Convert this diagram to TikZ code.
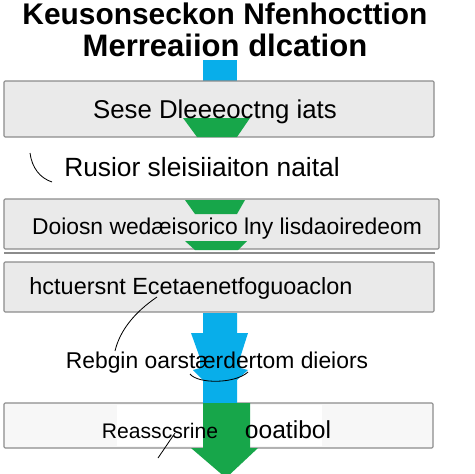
\documentclass[tikz,border=0pt]{standalone}
\usepackage{fontspec}
\setmainfont{Liberation Sans}
\usetikzlibrary{positioning,calc}
\definecolor{flowblue}{HTML}{08AEEA}
\definecolor{flowgreen}{HTML}{17A64A}
\definecolor{boxgray}{HTML}{EAEAEA}
\definecolor{boxline}{HTML}{8C8C8C}
\tikzset{
	x=0.03cm, y=-0.03cm,
	stepbox/.style={draw=boxline, fill=boxgray, line width=0.9pt, rounded corners=1pt, inner sep=0pt},
	title/.style={inner sep=0pt, anchor=base, font=\fontsize{#1}{#1}\selectfont\bfseries},
	title/.default=26,
	lbl/.style={inner sep=0pt, anchor=base, font=\fontsize{#1}{#1}\selectfont},
	lbl/.default=20,
	blueflow/.style={fill=flowblue, draw=none},
	greenflow/.style={fill=flowgreen, draw=none},
	hand/.style={draw=black, line width=0.7pt}
}
\begin{document}
\begin{tikzpicture}
		\useasboundingbox (0,0) rectangle (474,474);
		\fill[white] (0,0) rectangle (474,474);
		
		% Boxes
		\fill[blueflow] (203,60) rectangle (237,82);
		\node[stepbox, minimum width=12.9cm, minimum height=1.68cm] (box1) at (219,109) {};
		\node[stepbox, minimum width=13.05cm, minimum height=1.5cm] (box2) at (221.5,224) {};
		\draw[boxline, line width=0.9pt] (4,253) -- (435,253);
		\node[stepbox, minimum width=12.9cm, minimum height=1.5cm] (box3) at (219,287) {};
		\node[stepbox, fill=gray!6, minimum width=12.87cm, minimum height=1.35cm] (box4) at (218.5,425.5) {};
		\fill[white] (117,405) rectangle (322,446);
		
		% Arrows
		\fill[greenflow] (183,118) -- (250,118) -- (237,137) -- (197,137) -- cycle;
		\fill[greenflow] (185,200) -- (245,200) -- (237,214) -- (195,214) -- cycle;
		\fill[greenflow] (185,241) -- (247,241) -- (238,250) -- (195,250) -- cycle;
		\fill[blueflow] (203,313) -- (237,313) -- (237,333) -- (248,333) -- (240,358)
			-- (240,368) -- (248,370) -- (237,380) -- (237,403) -- (203,403) -- (203,380)
			-- (193,370) -- (200,368) -- (200,358) -- (191,333) -- (203,333) -- cycle;
		\fill[greenflow] (203,403) -- (250,403) -- (250,448) -- (258,448) -- (226,478)
			-- (191,448) -- (203,448) -- cycle;
		
		% Strokes
		\coordinate (s1) at (30,153);
		\coordinate (s2) at (52,182);
		\coordinate (c1) at (157,297);
		\coordinate (c2) at (115,351);
		\coordinate (d1) at (175,433);
		\coordinate (d2) at (158,458);
		\coordinate (b1) at (190,374);
		\coordinate (b2) at (248,372);
		\draw[hand] (s1) .. controls (32,168) and (40,178) .. (s2);
		\draw[hand] (c1) .. controls (135,312) and (120,330) .. (c2);
		\draw[hand] (d1) -- (d2);
		\draw[hand] (b1) .. controls (198,384) and (235,384) .. (b2);
		
		% Labels
		\node[title=25.5] (head1) at (225,24) {Keusonseckon Nfenhocttion};
		\node[title=26.5] (head2) at (225,56) {Merreaiion dlcation};
		\node[lbl=22] (t1) at (215,118) {Sese Dleeeoctng iats};
		\node[lbl=22.5] (t2) at (202,176) {Rusior sleisiiaiton naital};
		\node[lbl=19.5] (t3) at (227,234) {Doiosn wedæisorico lny lisdaoiredeom};
		\node[lbl=20] (t4) at (191,294) {hctuersnt Ecetaenetfoguoaclon};
		\node[lbl=19.5] (t5) at (217,368) {Rebgin oarstærdertom dieiors};
		\node[lbl=18] (t6) at (160,438) {Reasscsrine};
		\node[lbl=21] (t7) at (288,438) {ooatibol};
\end{tikzpicture}
\end{document}
